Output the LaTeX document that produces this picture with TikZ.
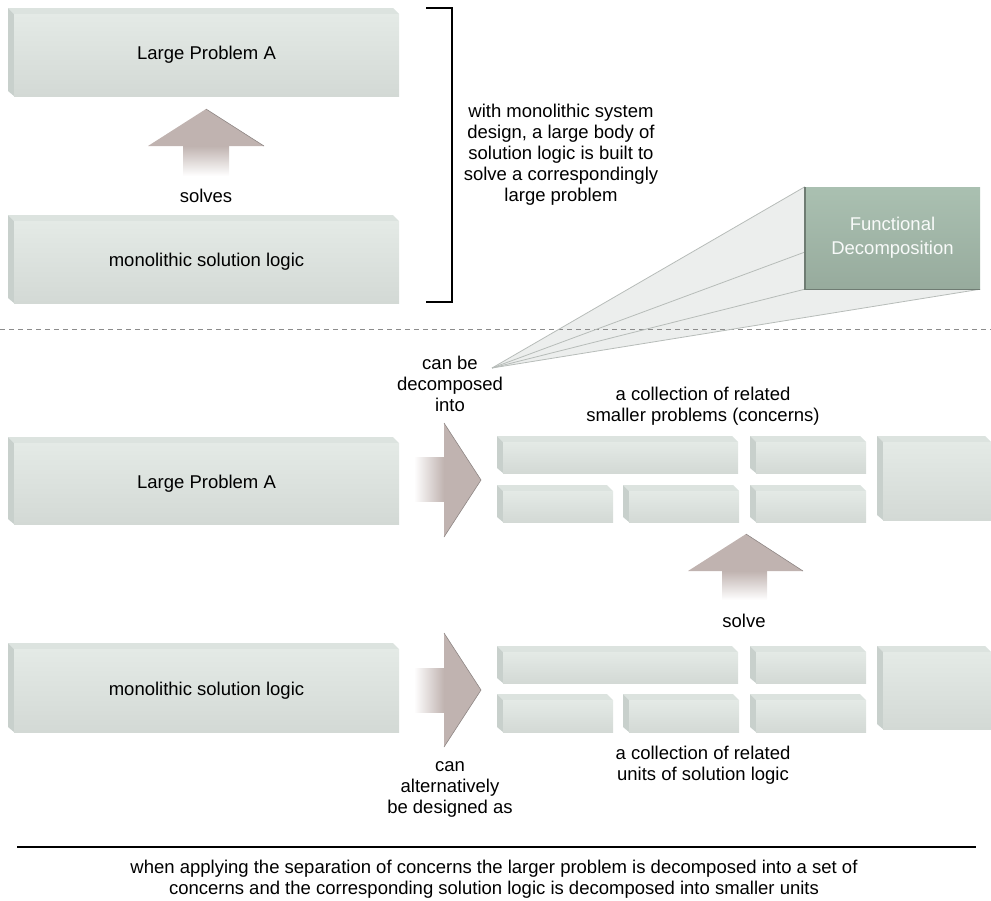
\documentclass[tikz,border=0pt]{standalone}
\usepackage{fontspec}
\setmainfont{Liberation Sans}
\definecolor{slabtop}{HTML}{DCE3DF}
\definecolor{slabside}{HTML}{C8D0CC}
\definecolor{frontA}{HTML}{E4EAE6}
\definecolor{frontB}{HTML}{D3D9D5}
\definecolor{arrowc}{HTML}{C0B3B0}
\definecolor{arrowedge}{HTML}{8E8684}
\definecolor{fdA}{HTML}{AAC0B1}
\definecolor{fdB}{HTML}{97AB9D}
\definecolor{fdedge}{HTML}{6F7C73}
\definecolor{funnelfill}{HTML}{ECEEED}
\definecolor{funnelline}{HTML}{B7BCB9}
\tikzset{
  lbl/.style={font=\fontsize{18.5}{21}\selectfont, align=center, inner sep=0pt, text=black},
  slabtopface/.style={fill=slabtop},
  slabsideface/.style={fill=slabside},
  slabfront/.style={top color=frontA, bottom color=frontB, draw=none},
  blockarrow/.style={fill=arrowc},
  arrowrim/.style={draw=arrowedge, line width=0.6pt},
  fdbox/.style={top color=fdA, bottom color=fdB, minimum width=175pt, minimum height=102pt,
    inner sep=0pt, align=center, font=\fontsize{18.5}{24}\selectfont, text=white!92!fdA},
  funnelrim/.style={draw=funnelline, line width=0.8pt},
  sepline/.style={draw=black!45, line width=0.9pt, dash pattern=on 5pt off 4pt},
  rule/.style={draw=black, line width=1.2pt}
}
% name, x1, y1, x2, y2, text
\newcommand\slabbox[6]{%
  \fill[slabtopface] (#2,#3) -- ({#4-6},#3) -- (#4,{#3+6}) -- ({#2+6},{#3+6}) -- cycle;
  \fill[slabsideface] (#2,#3) -- ({#2+6},{#3+6}) -- ({#2+6},#5) -- (#2,{#5-5}) -- cycle;
  \shade[slabfront] ({#2+6},{#3+6}) rectangle (#4,#5);
  \node[lbl] (#1) at ({(#2+6+#4)/2},{(#3+6+#5)/2}) {#6};
}
\begin{document}
\begin{tikzpicture}[x=1pt,y=-1pt]
\useasboundingbox (0,0) rectangle (991,900);

% ---------- top part ----------
\slabbox{lpaTop}{8}{8}{399}{96}{Large Problem A}
\slabbox{mslTop}{8}{215}{399}{303}{monolithic solution logic}

% solves arrow
\shade[top color=arrowc, bottom color=white] (183,146) rectangle (229,176);
\fill[blockarrow] (148,146) -- (206,109) -- (264,146) -- cycle;
\draw[arrowrim] (206,109) -- (264,146);
\node[lbl] (solves) at (206,196) {solves};

% bracket
\draw[rule] (426,8) -- (452,8) -- (452,302) -- (426,302);
\node[lbl] (bracketText) at (561,155) {with monolithic system\\design, a large body of\\solution logic is built to\\solve a correspondingly\\large problem};

% functional decomposition
\node[fdbox] (fd) at (892.5,238) {Functional\\Decomposition};
\coordinate (apex) at (492,368);
\coordinate (fdmid) at (805,252);
\fill[funnelfill] (apex) -- (fd.north west) -- (fd.south west) -- (fd.south east) -- cycle;

% separator
\draw[sepline] (0,329) -- (991,329);

\draw[funnelrim] (apex) -- (fd.north west);
\draw[funnelrim] (apex) -- (fdmid);
\draw[funnelrim] (apex) -- (fd.south west);
\draw[funnelrim] (apex) -- (fd.south east);
\draw[draw=fdedge, line width=1.4pt] (fd.north west) -- (fd.south west) -- (fd.south east);

\node[lbl] (decomp) at (450,384) {can be\\decomposed\\into};

% ---------- bottom part ----------
\slabbox{lpaBot}{8}{437}{399}{524}{Large Problem A}
\slabbox{mslBot}{8}{643}{399}{732}{monolithic solution logic}

% right arrow 1
\shade[left color=white, right color=arrowc] (414,457) rectangle (444,501);
\fill[blockarrow] (444,423) -- (481,480) -- (444,537) -- cycle;
\draw[arrowrim] (444,423) -- (481,480) -- (444,537);

% right arrow 2
\shade[left color=white, right color=arrowc] (414,668) rectangle (444,712);
\fill[blockarrow] (444,633) -- (481,690) -- (444,747) -- cycle;
\draw[arrowrim] (444,633) -- (481,690) -- (444,747);

\node[lbl] (alt) at (450,789) {can\\alternatively\\be designed as};

% concerns (top group)
\node[lbl] (concernsText) at (703,406.5) {a collection of related\\smaller problems (concerns)};
\slabbox{pA}{497}{436}{738}{473}{}
\slabbox{pB}{750}{436}{866}{473}{}
\slabbox{pC}{497}{485}{613}{522}{}
\slabbox{pD}{623}{485}{739}{522}{}
\slabbox{pE}{750}{485}{866}{522}{}
\slabbox{pF}{877}{436}{991}{520}{}

% solve arrow
\shade[top color=arrowc, bottom color=white] (722,571) rectangle (767,600);
\fill[blockarrow] (688,571) -- (746,534) -- (803,571) -- cycle;
\draw[arrowrim] (746,534) -- (803,571);
\node[lbl] (solve) at (744,621) {solve};

% units (bottom group)
\slabbox{uA}{497}{646}{738}{683}{}
\slabbox{uB}{750}{646}{866}{683}{}
\slabbox{uC}{497}{694}{613}{732}{}
\slabbox{uD}{623}{694}{739}{732}{}
\slabbox{uE}{750}{694}{866}{732}{}
\slabbox{uF}{877}{646}{991}{729}{}
\node[lbl] (unitsText) at (703,765) {a collection of related\\units of solution logic};

% caption
\draw[rule] (17,847) -- (976,847);
\node[lbl] (caption) at (494,879) {when applying the separation of concerns the larger problem is decomposed into a set of\\concerns and the corresponding solution logic is decomposed into smaller units};
\end{tikzpicture}
\end{document}
